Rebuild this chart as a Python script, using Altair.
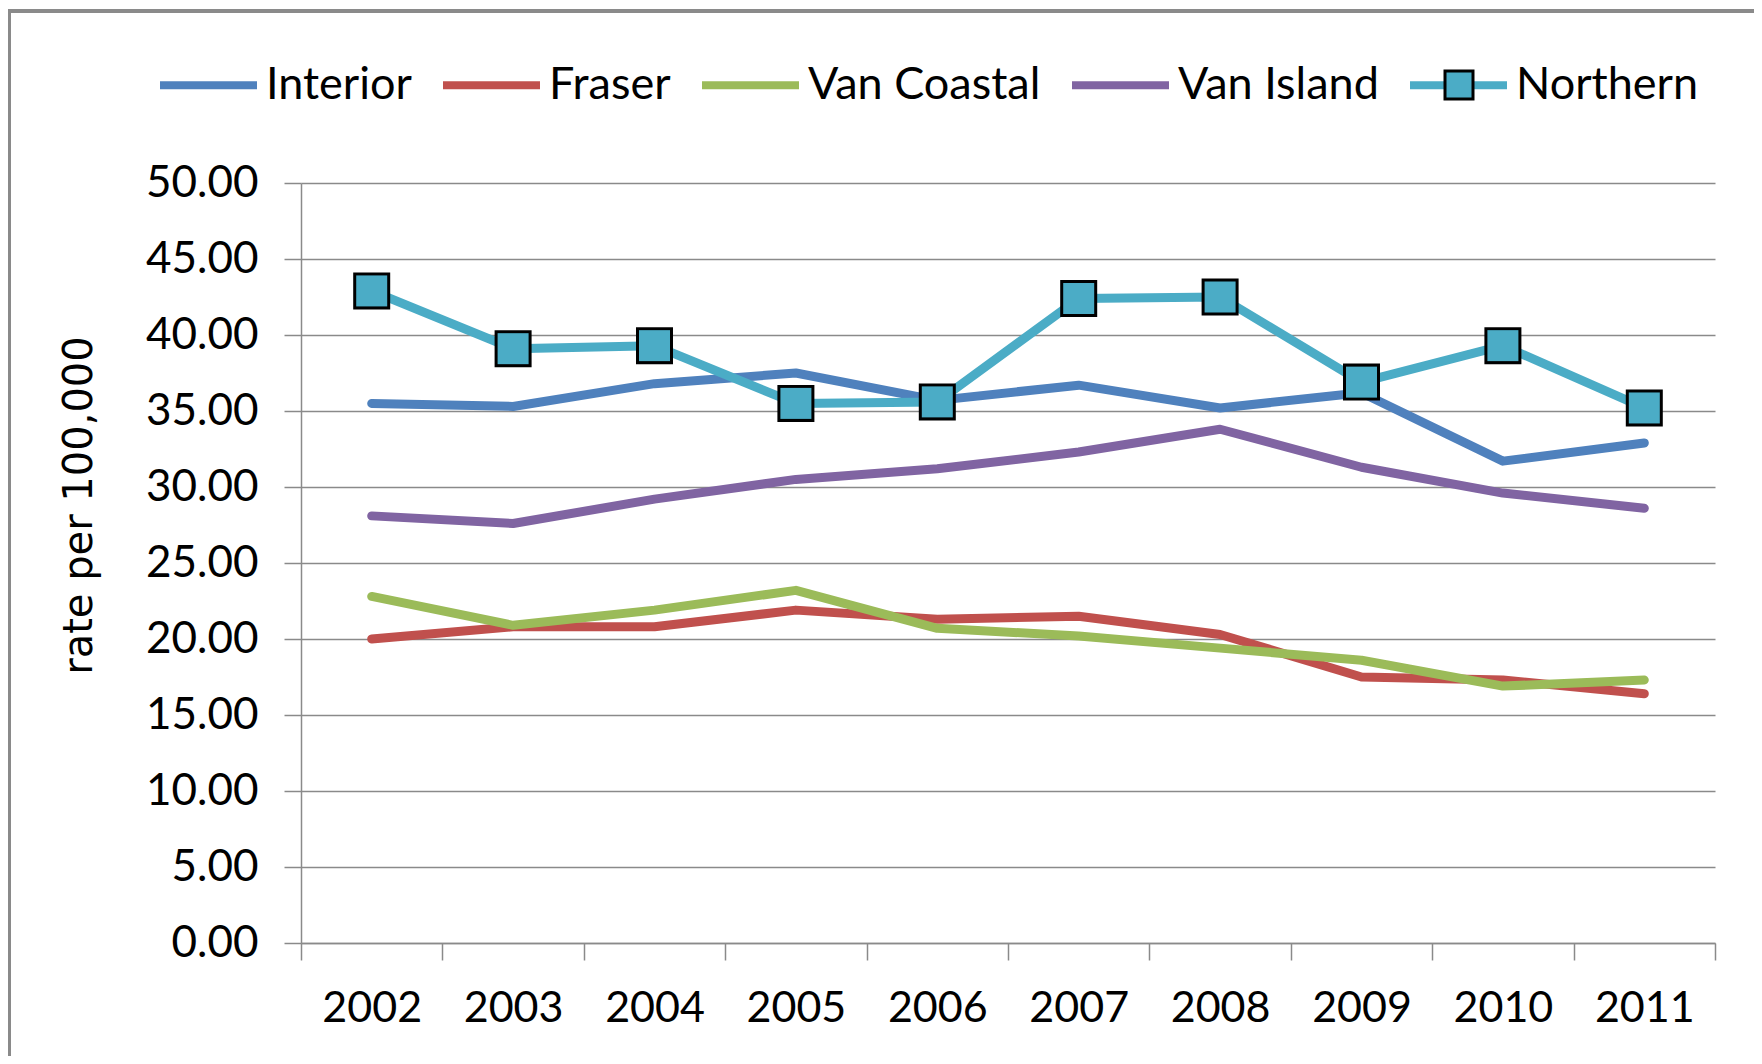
import altair as alt
import pandas as pd

# ---- data ----
years = [2002, 2003, 2004, 2005, 2006, 2007, 2008, 2009, 2010, 2011]
series_names = ["Interior", "Fraser", "Van Coastal", "Van Island", "Northern"]
interior = [35.5, 35.3, 36.8, 37.5, 35.7, 36.7, 35.2, 36.2, 31.7, 32.9]
fraser = [20.0, 20.8, 20.8, 21.9, 21.3, 21.5, 20.3, 17.5, 17.3, 16.4]
van_coastal = [22.8, 20.9, 21.9, 23.2, 20.7, 20.2, 19.4, 18.6, 16.9, 17.3]
van_island = [28.1, 27.6, 29.2, 30.5, 31.2, 32.3, 33.8, 31.3, 29.6, 28.6]
northern = [42.9, 39.1, 39.3, 35.5, 35.6, 42.4, 42.5, 36.9, 39.3, 35.2]
colors = ["#4F81BD", "#C0504D", "#9BBB59", "#8064A2", "#4BACC6"]
y_ticks = [0, 5, 10, 15, 20, 25, 30, 35, 40, 45, 50]
y_title = "rate per 100,000"

rows = []
for name, vals in zip(series_names, [interior, fraser, van_coastal, van_island, northern]):
    for yr, v in zip(years, vals):
        rows.append({"year": yr, "series": name, "marker_fill": name,
                     "marker_edge": name, "rate": v})
df = pd.DataFrame(rows)

# ---- layout / style ----
W, H = 1414, 760
FONT = "Lato"
GRAY = "#8a8a8a"
boundaries = [years[0] - 0.5] + [y + 0.5 for y in years]

x_enc = alt.X(
    "year:Q",
    scale=alt.Scale(domain=[years[0] - 0.5, years[-1] + 0.5], nice=False, zero=False),
    axis=alt.Axis(
        values=boundaries,
        labelExpr=f"datum.value > {years[-1]} ? '' : format(datum.value + 0.5, 'd')",
        labelOffset=W / len(years) / 2,
        labelFlush=False,
        labelOverlap=False,
        labelBound=False,
        labelFont=FONT,
        labelFontSize=43,
        labelColor="black",
        labelPadding=27,
        tickSize=17,
        tickColor=GRAY,
        tickWidth=1.5,
        domainColor=GRAY,
        domainWidth=1.5,
        grid=False,
        title=None,
    ),
)

y_enc = alt.Y(
    "rate:Q",
    scale=alt.Scale(domain=[0, 50], nice=False),
    axis=alt.Axis(
        values=y_ticks,
        format=".2f",
        labelFont=FONT,
        labelFontSize=44,
        labelColor="black",
        labelPadding=26,
        tickSize=17,
        tickColor=GRAY,
        tickWidth=1.5,
        domainColor=GRAY,
        domainWidth=1.5,
        grid=True,
        gridColor=GRAY,
        gridWidth=1.5,
        title=y_title,
        titleFont="DejaVu Sans",
        titleFontSize=40,
        titleFontWeight="normal",
        titleColor="black",
        titleX=-222,
        titleY=322,
        titleAngle=270,
        titleAlign="center",
        titleBaseline="middle",
    ),
)

lines = alt.Chart(df).mark_line(strokeWidth=9, strokeCap="round", strokeJoin="round").encode(
    x=x_enc,
    y=y_enc,
    color=alt.Color(
        "series:N",
        sort=series_names,
        scale=alt.Scale(domain=series_names, range=colors),
        legend=alt.Legend(
            title=None,
            orient="none",
            legendX=-145,
            legendY=-150.5,
            direction="horizontal",
            columns=5,
            symbolType="stroke",
            symbolSize=9409,
            symbolStrokeWidth=8,
            labelFont=FONT,
            labelFontSize=45,
            labelColor="black",
            labelOffset=5,
            labelLimit=0,
            columnPadding=15,
            padding=0,
        ),
    ),
    order=alt.Order("year:Q"),
)

# Northern markers: a black square under a smaller teal square (black edge).
# Their one-entry legends sit on the Northern legend line.
LEG_CX, LEG_CY = 1158, -98   # centre of the Northern legend line, plot coords
northern_only = alt.Chart(df).transform_filter(alt.datum.series == series_names[-1])


def marker_layer(field, color, side, legend_side):
    return northern_only.mark_square(filled=True, size=side * side, opacity=1, strokeWidth=0).encode(
        x="year:Q",
        y="rate:Q",
        fill=alt.Fill(
            f"{field}:N",
            scale=alt.Scale(domain=[series_names[-1]], range=[color]),
            legend=alt.Legend(
                title=None,
                orient="none",
                legendX=LEG_CX - legend_side / 2,
                legendY=LEG_CY - legend_side / 2,
                symbolType="square",
                symbolSize=legend_side * legend_side,
                symbolStrokeWidth=0,
                symbolOpacity=1,
                labelExpr="''",
                padding=0,
            ),
        ),
    )


edge = marker_layer("marker_edge", "black", 37, 31)
face = marker_layer("marker_fill", colors[-1], 31, 25)

frame = alt.Chart(alt.Data(values=[{}])).mark_rect(
    fill="transparent", stroke=GRAY, strokeWidth=4
).encode(
    x=alt.value(-292), x2=alt.value(W + 80), y=alt.value(-172), y2=alt.value(H + 220)
)

chart = alt.layer(frame, lines, edge, face).resolve_scale(
    fill="independent"
).resolve_legend(
    color="independent", fill="independent"
).properties(
    width=W,
    height=H,
    autosize=alt.AutoSizeParams(type="none"),
    padding={"left": 293, "top": 175, "right": 39, "bottom": 113},
    background="white",
).configure_view(stroke=None)

chart.save("out.html", embed_options={"renderer": "svg", "actions": False})
